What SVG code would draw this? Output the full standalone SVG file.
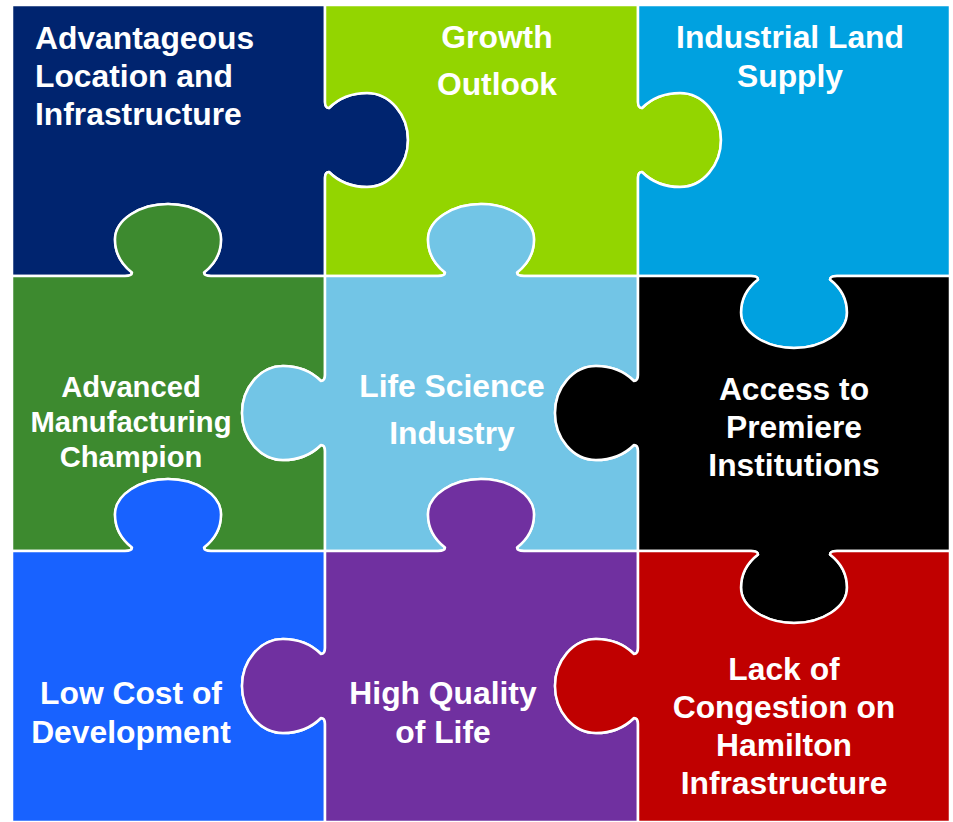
<svg xmlns="http://www.w3.org/2000/svg" width="953" height="822" viewBox="0 0 953 822">
<style>
.pc{stroke:#ffffff;stroke-width:2.5;stroke-linejoin:round}
.t{font-family:"Liberation Sans",Arial,sans-serif;font-weight:bold;font-size:31.8px;fill:#ffffff;text-anchor:middle}
.l{text-anchor:start}
.s{font-size:29.2px}
</style>
<rect width="953" height="822" fill="#ffffff"/>
<g id="navy">
<path class="pc" fill="#00246F" d="M12,5 L325,5 L325,102 Q325,108 329,108 C337,100 350,93 367,93 C390,93 408,115 408,140 C408,165 390,187 367,187 C350,187 337,180 329,172 Q325,172 325,178 L325,276 L211,276 Q204,276 204,272.5 C213,265.5 221,254 221,239.5 C221,219.5 196,204 168,204 C140,204 115,219.5 115,239.5 C115,254 123,265.5 132,272.5 Q132,276 125,276 L12,276 Z"/>
<text class="t l" x="35" y="48.5">Advantageous</text>
<text class="t l" x="35" y="87">Location and</text>
<text class="t l" x="35" y="125">Infrastructure</text>
</g>
<g id="growth">
<path class="pc" fill="#93D500" d="M325,5 L638,5 L638,102 Q638,108 642,108 C650,100 663,93 680,93 C703,93 721,115 721,140 C721,165 703,187 680,187 C663,187 650,180 642,172 Q638,172 638,178 L638,276 L524,276 Q517,276 517,272.5 C526,265.5 534,254 534,239.5 C534,219.5 509,204 481,204 C453,204 428,219.5 428,239.5 C428,254 436,265.5 445,272.5 Q445,276 438,276 L325,276 L325,178 Q325,172 329,172 C337,180 350,187 367,187 C390,187 408,165 408,140 C408,115 390,93 367,93 C350,93 337,100 329,108 Q325,108 325,102 Z"/>
<text class="t" x="497" y="48">Growth</text>
<text class="t" x="497" y="95">Outlook</text>
</g>
<g id="land">
<path class="pc" fill="#00A1E0" d="M638,5 L950,5 L950,276 L837,276 Q830,276 830,279.5 C839,286.5 847,298 847,312.5 C847,332.5 822,348 794,348 C766,348 741,332.5 741,312.5 C741,298 749,286.5 758,279.5 Q758,276 751,276 L638,276 L638,178 Q638,172 642,172 C650,180 663,187 680,187 C703,187 721,165 721,140 C721,115 703,93 680,93 C663,93 650,100 642,108 Q638,108 638,102 Z"/>
<text class="t" x="790" y="48">Industrial Land</text>
<text class="t" x="790" y="87">Supply</text>
</g>
<g id="manufacturing">
<path class="pc" fill="#3D8A2F" d="M12,276 L125,276 Q132,276 132,272.5 C123,265.5 115,254 115,239.5 C115,219.5 140,204 168,204 C196,204 221,219.5 221,239.5 C221,254 213,265.5 204,272.5 Q204,276 211,276 L325,276 L325,375 Q325,381 321,381 C313,373 300,366 283,366 C260,366 242,388 242,413 C242,438 260,460 283,460 C300,460 313,453 321,445 Q325,445 325,451 L325,551 L211,551 Q204,551 204,547.5 C213,540.5 221,529 221,514.5 C221,494.5 196,479 168,479 C140,479 115,494.5 115,514.5 C115,529 123,540.5 132,547.5 Q132,551 125,551 L12,551 Z"/>
<text class="t s" x="131" y="397">Advanced</text>
<text class="t s" x="131" y="432">Manufacturing</text>
<text class="t s" x="131" y="467">Champion</text>
</g>
<g id="lifescience">
<path class="pc" fill="#72C5E6" d="M325,276 L438,276 Q445,276 445,272.5 C436,265.5 428,254 428,239.5 C428,219.5 453,204 481,204 C509,204 534,219.5 534,239.5 C534,254 526,265.5 517,272.5 Q517,276 524,276 L638,276 L638,375 Q638,381 634,381 C626,373 613,366 596,366 C573,366 555,388 555,413 C555,438 573,460 596,460 C613,460 626,453 634,445 Q638,445 638,451 L638,551 L524,551 Q517,551 517,547.5 C526,540.5 534,529 534,514.5 C534,494.5 509,479 481,479 C453,479 428,494.5 428,514.5 C428,529 436,540.5 445,547.5 Q445,551 438,551 L325,551 L325,451 Q325,445 321,445 C313,453 300,460 283,460 C260,460 242,438 242,413 C242,388 260,366 283,366 C300,366 313,373 321,381 Q325,381 325,375 Z"/>
<text class="t" x="452" y="397">Life Science</text>
<text class="t" x="452" y="444">Industry</text>
</g>
<g id="institutions">
<path class="pc" fill="#000000" d="M638,276 L751,276 Q758,276 758,279.5 C749,286.5 741,298 741,312.5 C741,332.5 766,348 794,348 C822,348 847,332.5 847,312.5 C847,298 839,286.5 830,279.5 Q830,276 837,276 L950,276 L950,551 L837,551 Q830,551 830,554.5 C839,561.5 847,573 847,587.5 C847,607.5 822,623 794,623 C766,623 741,607.5 741,587.5 C741,573 749,561.5 758,554.5 Q758,551 751,551 L638,551 L638,451 Q638,445 634,445 C626,453 613,460 596,460 C573,460 555,438 555,413 C555,388 573,366 596,366 C613,366 626,373 634,381 Q638,381 638,375 Z"/>
<text class="t" x="794" y="400">Access to</text>
<text class="t" x="794" y="438">Premiere</text>
<text class="t" x="794" y="476">Institutions</text>
</g>
<g id="lowcost">
<path class="pc" fill="#1862FF" d="M12,551 L125,551 Q132,551 132,547.5 C123,540.5 115,529 115,514.5 C115,494.5 140,479 168,479 C196,479 221,494.5 221,514.5 C221,529 213,540.5 204,547.5 Q204,551 211,551 L325,551 L325,648 Q325,654 321,654 C313,646 300,639 283,639 C260,639 242,661 242,686 C242,711 260,733 283,733 C300,733 313,726 321,718 Q325,718 325,724 L325,822 L12,822 Z"/>
<text class="t" x="131" y="704">Low Cost of</text>
<text class="t" x="131" y="743">Development</text>
</g>
<g id="quality">
<path class="pc" fill="#7030A0" d="M325,551 L438,551 Q445,551 445,547.5 C436,540.5 428,529 428,514.5 C428,494.5 453,479 481,479 C509,479 534,494.5 534,514.5 C534,529 526,540.5 517,547.5 Q517,551 524,551 L638,551 L638,648 Q638,654 634,654 C626,646 613,639 596,639 C573,639 555,661 555,686 C555,711 573,733 596,733 C613,733 626,726 634,718 Q638,718 638,724 L638,822 L325,822 L325,724 Q325,718 321,718 C313,726 300,733 283,733 C260,733 242,711 242,686 C242,661 260,639 283,639 C300,639 313,646 321,654 Q325,654 325,648 Z"/>
<text class="t" x="443" y="704">High Quality</text>
<text class="t" x="443" y="743">of Life</text>
</g>
<g id="congestion">
<path class="pc" fill="#C00000" d="M638,551 L751,551 Q758,551 758,554.5 C749,561.5 741,573 741,587.5 C741,607.5 766,623 794,623 C822,623 847,607.5 847,587.5 C847,573 839,561.5 830,554.5 Q830,551 837,551 L950,551 L950,822 L638,822 L638,724 Q638,718 634,718 C626,726 613,733 596,733 C573,733 555,711 555,686 C555,661 573,639 596,639 C613,639 626,646 634,654 Q638,654 638,648 Z"/>
<text class="t" x="784" y="680">Lack of</text>
<text class="t" x="784" y="718">Congestion on</text>
<text class="t" x="784" y="756">Hamilton</text>
<text class="t" x="784" y="794">Infrastructure</text>
</g>
<g id="connectors"></g>
</svg>
